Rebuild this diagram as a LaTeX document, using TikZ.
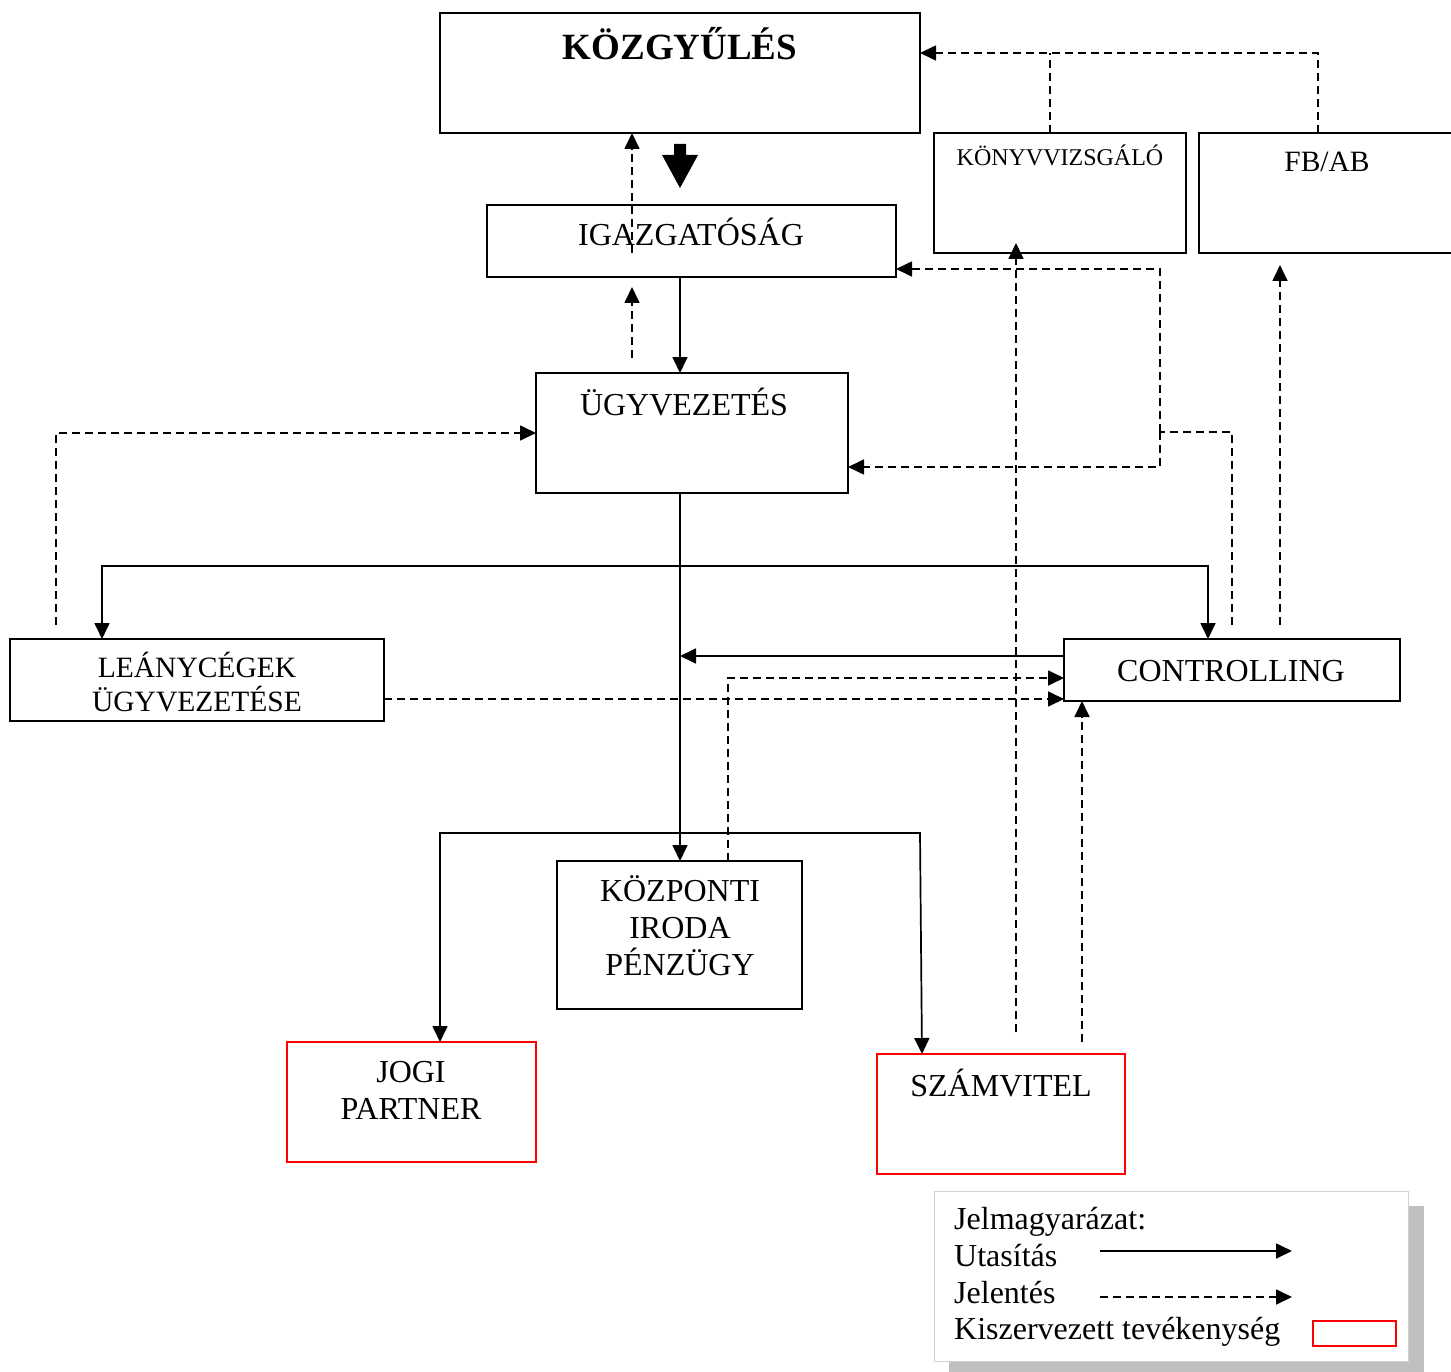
\documentclass[tikz,border=0pt]{standalone}
\usepackage{fontspec}
\setmainfont{Liberation Serif}
\usetikzlibrary{arrows.meta}
\tikzset{
 box/.style={draw, line width=1.8pt, inner sep=0pt, outer sep=0pt, rectangle},
 redbox/.style={box, draw=red},
 lbl/.style={anchor=base, inner sep=0pt, font=\fontsize{32}{38}\selectfont},
 lbls/.style={lbl, font=\fontsize{29.5}{35}\selectfont},
 sol/.style={line width=1.7pt, -{Triangle[length=16pt,width=15pt]}},
 sol2/.style={line width=1.7pt, {Triangle[length=16pt,width=15pt]}-{Triangle[length=16pt,width=15pt]}},
 rep/.style={line width=1.7pt, dash pattern=on 8pt off 5pt, -{Triangle[length=16pt,width=15pt]}},
 repl/.style={line width=1.7pt, dash pattern=on 8pt off 5pt},
}
\begin{document}
\begin{tikzpicture}[x=1pt,y=-1pt]
\useasboundingbox (0,0) rectangle (1451,1372);
% boxes
\node[box,minimum width=480pt,minimum height=120pt] (kozgy) at (680,73) {};
\node[box,minimum width=409pt,minimum height=72pt] (igaz) at (691.5,241) {};
\node[box,minimum width=312pt,minimum height=120pt] (ugy) at (692,433) {};
\node[box,minimum width=252pt,minimum height=120pt] (konyv) at (1060,193) {};
\node[box,minimum width=257pt,minimum height=120pt] (fbab) at (1327.5,193) {};
\node[box,minimum width=374pt,minimum height=82pt] (lean) at (197,680) {};
\node[box,minimum width=336pt,minimum height=62pt] (ctrl) at (1232,670) {};
\node[box,minimum width=245pt,minimum height=148pt] (kozp) at (679.5,935) {};
\node[redbox,minimum width=249pt,minimum height=120pt] (jogi) at (411.5,1102) {};
\node[redbox,minimum width=248pt,minimum height=120pt] (szam) at (1001,1114) {};
% texts
\node[lbl,font=\fontsize{37}{44}\selectfont\bfseries] (tkozgy) at (680,60) {KÖZGYŰLÉS};
\node[lbl] (tigaz) at (691,246) {IGAZGATÓSÁG};
\node[lbl] (tugy) at (684,415) {ÜGYVEZETÉS};
\node[lbl,font=\fontsize{24}{29}\selectfont] (tkonyv) at (1060,166) {KÖNYVVIZSGÁLÓ};
\node[lbls] (tfbab) at (1327,172) {FB/AB};
\node[lbls] (tlean1) at (197,677) {LEÁNYCÉGEK};
\node[lbls] (tlean2) at (197,711) {ÜGYVEZETÉSE};
\node[lbl] (tctrl) at (1231,681) {CONTROLLING};
\node[lbl] (tkozp1) at (680,901) {KÖZPONTI};
\node[lbl] (tkozp2) at (680,938) {IRODA};
\node[lbl] (tkozp3) at (680,975) {PÉNZÜGY};
\node[lbl] (tjogi1) at (411,1082) {JOGI};
\node[lbl] (tjogi2) at (411,1119) {PARTNER};
\node[lbl] (tszam) at (1001,1096) {SZÁMVITEL};
% legend
\fill[gray!50] (949,1206) rectangle (1424,1380);
\node[draw=gray!35, fill=white, line width=1pt, minimum width=474pt, minimum height=170pt, inner sep=0pt] (leg) at (1171,1276) {};
\node[lbl,anchor=base west] (lg1) at (954,1229) {Jelmagyarázat:};
\node[lbl,anchor=base west] (lg2) at (954,1266) {Utasítás};
\node[lbl,anchor=base west] (lg3) at (954,1303) {Jelentés};
\node[lbl,anchor=base west] (lg4) at (954,1339) {Kiszervezett tevékenység};
\coordinate (la1) at (1100,1251); \coordinate (la2) at (1292,1251);
\coordinate (lb1) at (1100,1297); \coordinate (lb2) at (1292,1297);
\draw[sol] (la1) -- (la2);
\draw[rep] (lb1) -- (lb2);
\node[draw=red, line width=1.5pt, minimum width=83pt, minimum height=25pt, inner sep=0pt] (legred) at (1354.5,1333.5) {};
% helper coordinates
\foreach \v in {56,102,440,632,680,728,920,922,1016,1050,1082,1160,1208,1232,1280,1318}{\coordinate (x\v) at (\v,0);}
\foreach \v in {53,269,432,467,566,656,678,699,833}{\coordinate (y\v) at (0,\v);}
% big arrow
\fill (674,144) -- (686,144) -- (686,155) -- (698,155) -- (680,188) -- (662,155) -- (674,155) -- cycle;
% connectors
\coordinate (d1s) at (632,253);
\draw[rep] (d1s) -- (kozgy.south -| x632);
\coordinate (d2s) at (632,358); \coordinate (d2e) at (632,287);
\draw[rep] (d2s) -- (d2e);
\draw[sol] (igaz.south -| x680) -- (ugy.north -| x680);
\draw[sol] (ugy.south -| x680) -- (kozp.north -| x680);
\draw[sol2] (lean.north -| x102) -- (x102 |- y566) -- (x1208 |- y566) -- (ctrl.north -| x1208);
\coordinate (d3s) at (56,625);
\draw[rep] (d3s) |- (ugy.west);
\coordinate (s4e) at (680,656);
\draw[sol] (ctrl.west |- y656) -- (s4e);
\draw[rep] (kozp.north -| x728) |- (ctrl.west |- y678);
\draw[rep] (lean.east |- y699) -- (ctrl.west |- y699);
\draw[sol2] (jogi.north -| x440) -- (x440 |- y833) -- (x920 |- y833) -- (szam.north -| x922);
\coordinate (d5s) at (1016,1032); \coordinate (d5e) at (1016,243);
\draw[rep] (d5s) -- (d5e);
\coordinate (d6s) at (1082,1042);
\draw[rep] (d6s) -- (ctrl.south -| x1082);
\coordinate (d7s) at (1232,625);
\draw[repl] (d7s) |- (x1160 |- y432);
\draw[rep] (x1160 |- y432) -- (x1160 |- y269) -- (igaz.east |- y269);
\draw[rep] (x1160 |- y432) -- (x1160 |- y467) -- (ugy.east |- y467);
\coordinate (d8s) at (1280,625); \coordinate (d8e) at (1280,265);
\draw[rep] (d8s) -- (d8e);
\draw[repl] (konyv.north -| x1050) -- (x1050 |- y53);
\draw[rep] (fbab.north -| x1318) |- (kozgy.east |- y53);
\end{tikzpicture}
\end{document}
